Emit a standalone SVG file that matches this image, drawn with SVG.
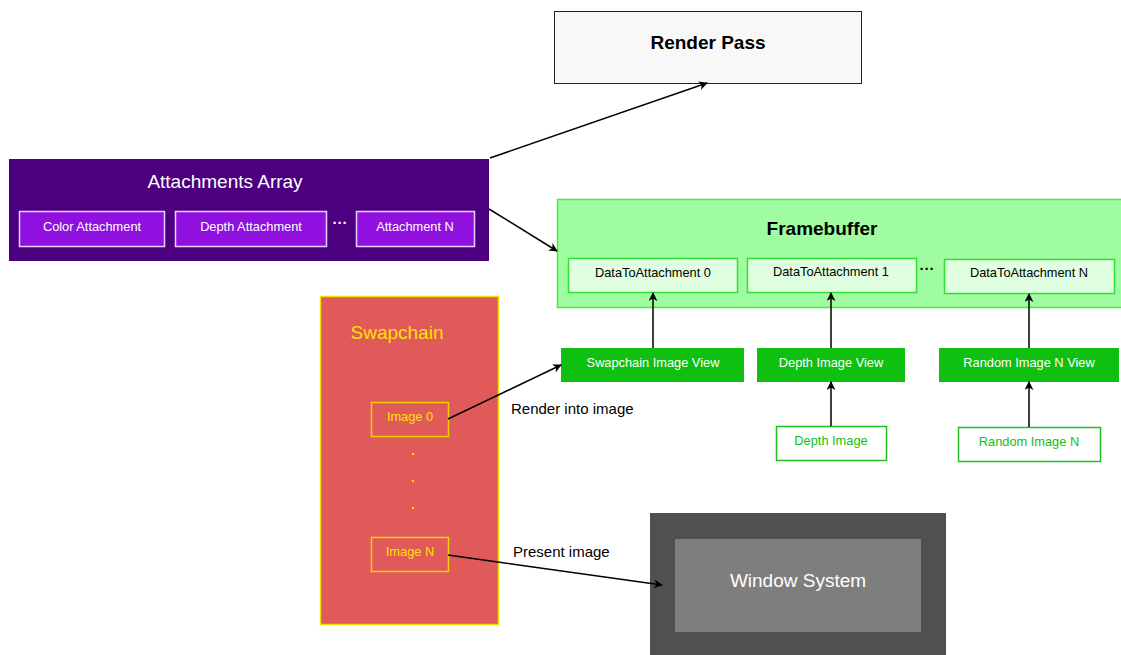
<svg xmlns="http://www.w3.org/2000/svg" width="1121" height="655" viewBox="0 0 1121 655">
<defs>
<marker id="arr" viewBox="0 0 10 10" refX="9" refY="5" markerWidth="9" markerHeight="9" markerUnits="userSpaceOnUse" orient="auto">
<path d="M0,0 L10,5 L0,10 L3,5 Z" fill="#000"/>
</marker>
<style>
text{font-family:"Liberation Sans",Arial,sans-serif;text-anchor:middle;dominant-baseline:central}
.sub{fill:#9010e0;stroke:#e8d0ff;stroke-width:1.5}
.subt{fill:#fff;font-size:12.8px}
.data{fill:#e0ffe0;stroke:#30e030;stroke-width:1.5}
.datat{fill:#000;font-size:12.8px}
.view{fill:#10c010}
.viewt{fill:#fff;font-size:12.8px}
.img{fill:#fff;stroke:#20c020;stroke-width:1.5}
.imgt{fill:#10c010;font-size:12.8px}
.sc{fill:none;stroke:#f0d000;stroke-width:1.5}
.sct{fill:#ffe000;font-size:12.8px}
.conn{stroke:#000;stroke-width:1.5;fill:none;marker-end:url(#arr)}
.lbl{fill:#000;font-size:15px;text-anchor:start}
.dots{font-size:15px;font-weight:bold}
</style>
</defs>
<rect width="1121" height="655" fill="#fff"/>

<g id="renderpass">
<rect x="554.5" y="11.5" width="307" height="72" fill="#f8f8f8" stroke="#222" stroke-width="1"/>
<text x="708" y="42" font-size="19" font-weight="bold" fill="#000">Render Pass</text>
</g>

<g id="attachments">
<rect x="9" y="159" width="480" height="102" fill="#4c0080"/>
<text x="225" y="181" font-size="19" fill="#fff">Attachments Array</text>
<g id="color-attachment"><rect class="sub" x="19.5" y="211.5" width="145" height="35"/><text class="subt" x="92" y="226">Color Attachment</text></g>
<g id="depth-attachment"><rect class="sub" x="175.5" y="211.5" width="151" height="35"/><text class="subt" x="251" y="226">Depth Attachment</text></g>
<text class="dots" x="340" y="222" fill="#fff">···</text>
<g id="attachment-n"><rect class="sub" x="356.5" y="211.5" width="118" height="35"/><text class="subt" x="415" y="226">Attachment N</text></g>
</g>

<g id="framebuffer">
<rect x="557.5" y="199.5" width="570" height="108" fill="#a0fca0" stroke="#40f040" stroke-width="1.5"/>
<text x="822" y="228" font-size="19" font-weight="bold" fill="#000">Framebuffer</text>
<g id="data0"><rect class="data" x="568.5" y="258.5" width="169" height="34"/><text class="datat" x="653" y="272">DataToAttachment 0</text></g>
<g id="data1"><rect class="data" x="747.5" y="258.5" width="169" height="34"/><text class="datat" x="831" y="271">DataToAttachment 1</text></g>
<text class="dots" x="927" y="268" fill="#000">···</text>
<g id="datan"><rect class="data" x="944.5" y="259.5" width="170" height="34"/><text class="datat" x="1029" y="272">DataToAttachment N</text></g>
</g>

<g id="swapchain-view"><rect class="view" x="561" y="348" width="183" height="34"/><text class="viewt" x="653" y="362">Swapchain Image View</text></g>
<g id="depth-view"><rect class="view" x="757" y="348" width="148" height="34"/><text class="viewt" x="831" y="362">Depth Image View</text></g>
<g id="random-view"><rect class="view" x="939" y="348" width="180" height="34"/><text class="viewt" x="1029" y="362">Random Image N View</text></g>

<g id="depth-image"><rect class="img" x="776.5" y="426.5" width="110" height="34"/><text class="imgt" x="831" y="440">Depth Image</text></g>
<g id="random-image"><rect class="img" x="958.5" y="427.5" width="142" height="34"/><text class="imgt" x="1029" y="441">Random Image N</text></g>

<g id="swapchain">
<rect x="320.5" y="296.5" width="178" height="328" fill="#e05a5a" stroke="#f0e000" stroke-width="1.5"/>
<text x="397" y="332" font-size="19" fill="#ffe000">Swapchain</text>
<g id="image0"><rect class="sc" x="371.5" y="402.5" width="77" height="34"/><text class="sct" x="410" y="416">Image 0</text></g>
<circle cx="413" cy="454" r="1.2" fill="#ffe000"/>
<circle cx="413" cy="481" r="1.2" fill="#ffe000"/>
<circle cx="413" cy="508" r="1.2" fill="#ffe000"/>
<g id="imagen"><rect class="sc" x="371.5" y="537.5" width="77" height="34"/><text class="sct" x="410" y="551">Image N</text></g>
</g>

<g id="window-system">
<rect x="650" y="513" width="296" height="142" fill="#505050"/>
<rect x="675" y="539" width="246" height="93" fill="#7e7e7e"/>
<text x="798" y="580" font-size="19" fill="#fff">Window System</text>
</g>

<g id="connectors">
<line class="conn" x1="490" y1="158" x2="707" y2="83"/>
<line class="conn" x1="489" y1="209" x2="557" y2="251"/>
<line class="conn" x1="653" y1="348" x2="653" y2="293"/>
<line class="conn" x1="831" y1="348" x2="831" y2="293"/>
<line class="conn" x1="1029" y1="348" x2="1029" y2="294"/>
<line class="conn" x1="831" y1="426" x2="831" y2="382"/>
<line class="conn" x1="1029" y1="427" x2="1029" y2="382"/>
<line class="conn" x1="448" y1="419" x2="561" y2="365"/>
<line class="conn" x1="448" y1="555" x2="662" y2="585"/>
<text class="lbl" x="511" y="408">Render into image</text>
<text class="lbl" x="513" y="551">Present image</text>
</g>
</svg>
